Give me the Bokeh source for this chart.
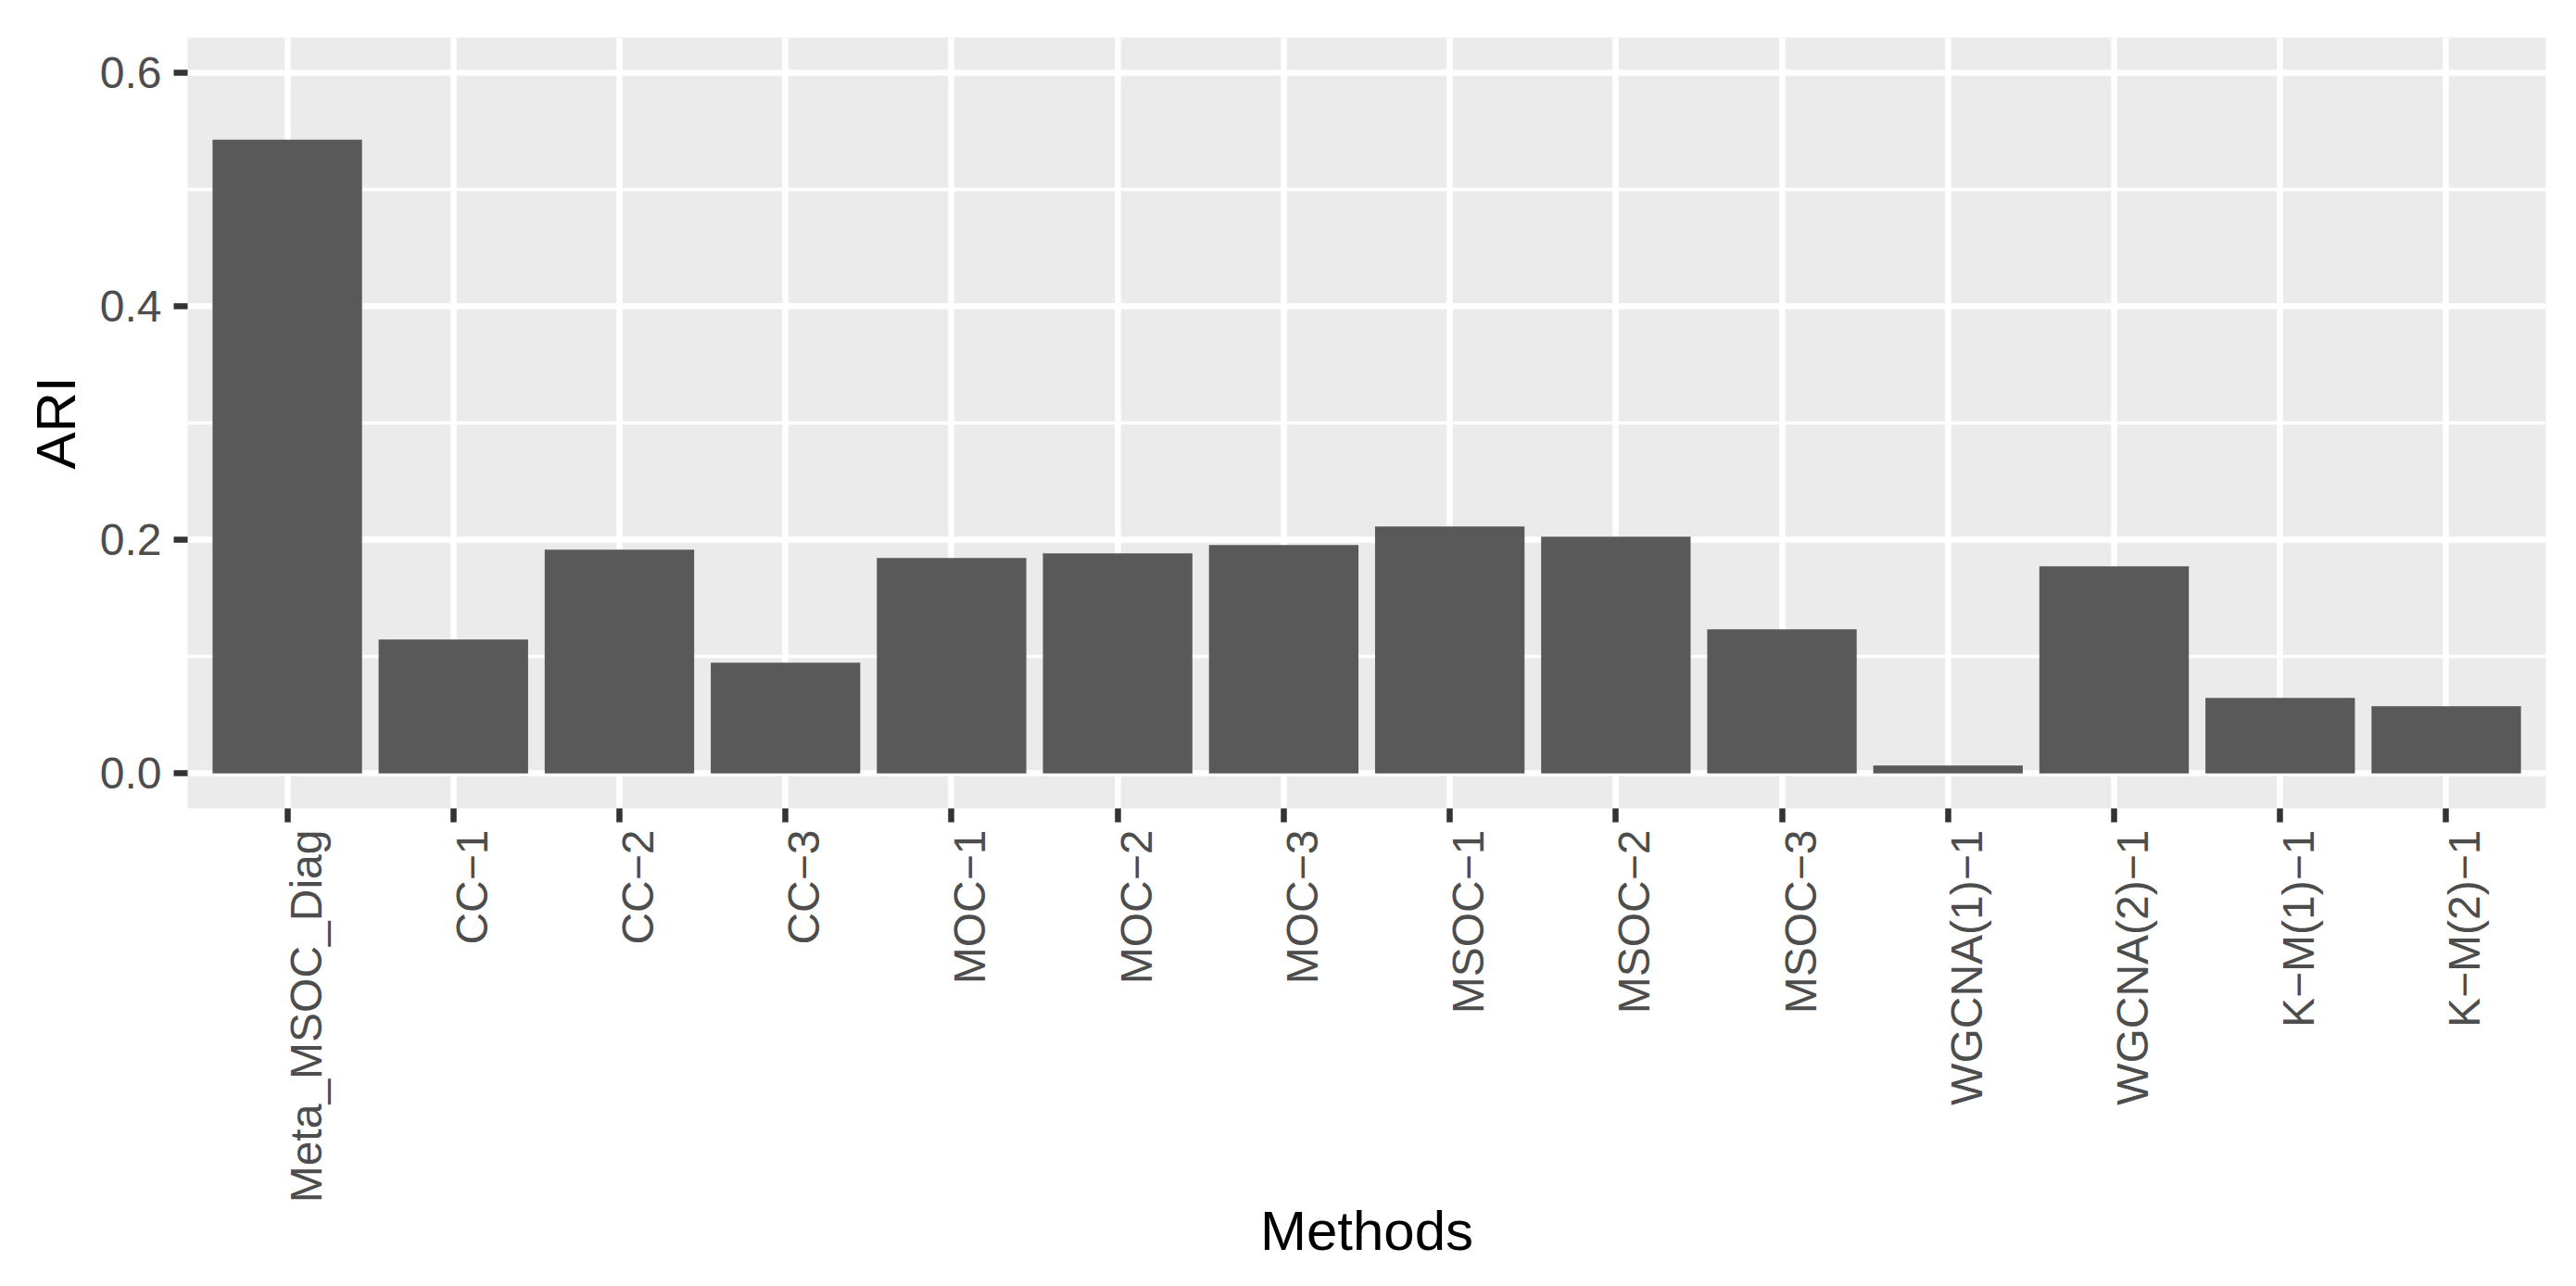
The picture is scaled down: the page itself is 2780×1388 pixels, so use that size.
from math import pi
from bokeh.plotting import figure
from bokeh.models import Range1d, LinearAxis, FixedTicker, Grid, ColumnDataSource, NumeralTickFormatter
from bokeh.embed import file_html
from bokeh.resources import INLINE

# ---- data ----
methods = ["Meta_MSOC_Diag", "CC\u22121", "CC\u22122", "CC\u22123", "MOC\u22121", "MOC\u22122",
           "MOC\u22123", "MSOC\u22121", "MSOC\u22122", "MSOC\u22123", "WGCNA(1)\u22121",
           "WGCNA(2)\u22121", "K\u2212M(1)\u22121", "K\u2212M(2)\u22121"]
ari = [0.5426, 0.1146, 0.1915, 0.0947, 0.1844, 0.1884, 0.1955,
       0.2114, 0.2026, 0.1233, 0.0066, 0.1772, 0.0646, 0.0574]
y_ticks = [0.0, 0.2, 0.4, 0.6]
y_minor = [0.1, 0.3, 0.5]
x_title = "Methods"
y_title = "ARI"

xs = [i + 1 for i in range(len(methods))]
src = ColumnDataSource(dict(x=xs, top=ari, name=methods))

FONT = "Liberation Sans"
x_lo, x_hi = 0.4, len(methods) + 0.6
label_shift = 0.1116  # shift of rotated tick labels (ggplot vjust)

p = figure(width=2764, height=1380,
           x_range=Range1d(x_lo, x_hi), y_range=Range1d(-0.03, 0.63),
           x_axis_type=None, y_axis_type=None,
           output_backend="svg", toolbar_location=None,
           min_border_left=202, min_border_right=17,
           min_border_top=40, min_border_bottom=508)
p.outline_line_color = None
p.background_fill_color = "#EBEBEB"
p.border_fill_color = "white"

# grids
xgrid = Grid(dimension=0, ticker=FixedTicker(ticks=xs),
             grid_line_color="white", grid_line_width=6.5)
ygrid = Grid(dimension=1, ticker=FixedTicker(ticks=y_ticks, minor_ticks=y_minor),
             grid_line_color="white", grid_line_width=6.5,
             minor_grid_line_color="white", minor_grid_line_width=3.3)
p.add_layout(xgrid)
p.add_layout(ygrid)

p.vbar(x="x", top="top", bottom=0, width=0.9, source=src,
       fill_color="#595959", line_color=None)

# y axis
yax = LinearAxis(ticker=FixedTicker(ticks=y_ticks, minor_ticks=[]),
                 formatter=NumeralTickFormatter(format="0.0"),
                 axis_label=y_title)
yax.axis_line_color = None
yax.major_tick_out = 15
yax.major_tick_in = 0
yax.minor_tick_out = 0
yax.minor_tick_in = 0
yax.major_tick_line_width = 6.5
yax.major_tick_line_color = "#333333"
yax.major_label_text_font = FONT
yax.major_label_text_font_size = "48px"
yax.major_label_text_color = "#4D4D4D"
yax.major_label_standoff = 13
yax.axis_label_text_font = FONT
yax.axis_label_text_font_size = "60px"
yax.axis_label_text_font_style = "normal"
yax.axis_label_text_color = "black"
yax.axis_label_standoff = 11
p.add_layout(yax, "left")

# x axis on a slightly shifted range (ggplot's rotated labels sit right of the tick);
# the tick marks at the category centres are drawn as this axis' minor ticks
p.extra_x_ranges = {"lab": Range1d(x_lo - label_shift, x_hi - label_shift)}
xax = LinearAxis(x_range_name="lab",
                 ticker=FixedTicker(ticks=xs, minor_ticks=[x - label_shift for x in xs]),
                 major_label_overrides={x: m for x, m in zip(xs, methods)},
                 axis_label=x_title)
xax.major_label_orientation = pi / 2
xax.axis_line_color = None
xax.major_tick_out = 0
xax.major_tick_in = 0
xax.major_tick_line_color = None
xax.minor_tick_out = 15
xax.minor_tick_in = 0
xax.minor_tick_line_width = 6.5
xax.minor_tick_line_color = "#333333"
xax.major_label_text_font = FONT
xax.major_label_text_font_size = "48px"
xax.major_label_text_color = "#4D4D4D"
xax.major_label_standoff = 8
xax.axis_label_text_font = FONT
xax.axis_label_text_font_size = "60px"
xax.axis_label_text_font_style = "normal"
xax.axis_label_text_color = "black"
xax.axis_label_standoff = -6
p.add_layout(xax, "below")

open("out.html", "w").write(file_html(p, INLINE))
